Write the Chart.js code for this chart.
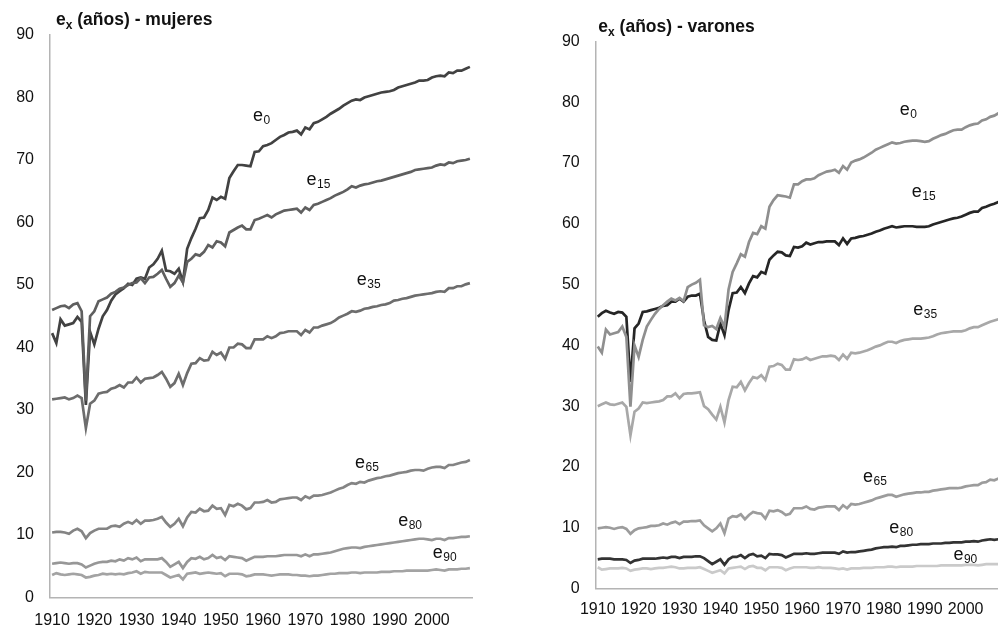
<!DOCTYPE html>
<html>
<head>
<meta charset="utf-8">
<script src="https://cdn.jsdelivr.net/npm/chart.js@4"></script>
<style>
  html, body { margin: 0; padding: 0; background: #fff; overflow: hidden; width: 998px; height: 627px; }
  canvas { position: absolute; top: 0; }
  #chartMujeres { left: 0; }
  #chartVarones { left: 500px; }
</style>
</head>
<body>
<canvas id="chartMujeres" width="490" height="627"></canvas>
<canvas id="chartVarones" width="520" height="627"></canvas>
<script>
// años 1910-2009
const years = [];
for (let y = 1910; y <= 2009; y++) years.push(String(y));

// mujeres
const mujeresE0 = [
  42.3, 40.7, 44.5, 43.5, 43.7, 43.9, 44.9, 44.1, 30.8, 42.5,
  40.5, 43.0, 45.0, 46.0, 47.5, 48.5, 49.0, 49.5, 50.2, 50.0,
  51.0, 51.2, 51.0, 52.8, 53.3, 54.2, 55.5, 52.3, 52.2, 51.8,
  52.6, 50.5, 55.8, 57.5, 59.0, 60.7, 60.8, 62.0, 64.0, 63.6,
  64.1, 63.8, 67.1, 68.2, 69.2, 69.2, 69.1, 69.0, 71.3, 71.4,
  72.2, 72.4, 72.7, 73.2, 73.7, 74.0, 74.4, 74.5, 74.7, 74.1,
  75.2, 74.9, 75.9, 76.1, 76.5, 76.9, 77.4, 77.8, 78.2, 78.7,
  79.1, 79.5, 79.7, 79.6, 80.0, 80.2, 80.4, 80.6, 80.8, 80.9,
  81.0, 81.2, 81.6, 81.8, 82.0, 82.2, 82.4, 82.7, 82.7, 82.8,
  83.2, 83.4, 83.5, 83.4, 84.0, 83.9, 84.3, 84.3, 84.6, 84.9
];
const mujeresE15 = [
  46.0, 46.3, 46.6, 46.7, 46.3, 46.9, 47.1, 45.8, 31.5, 45.0,
  45.8, 47.4, 47.7, 48.0, 48.6, 48.9, 49.4, 49.6, 50.0, 50.3,
  50.4, 51.1, 50.3, 51.2, 51.3, 51.8, 52.4, 51.0, 49.7, 50.3,
  51.5, 50.4, 53.7, 54.2, 54.9, 54.7, 55.3, 56.4, 56.0, 57.0,
  56.8, 56.2, 58.4, 58.8, 59.2, 59.5, 58.9, 58.9, 60.4, 60.6,
  60.9, 61.2, 60.8, 61.3, 61.6, 61.9, 62.0, 62.1, 62.2, 61.6,
  62.4, 62.0, 62.8, 63.0, 63.3, 63.6, 63.9, 64.3, 64.6, 64.9,
  65.3, 65.8, 65.6, 65.9, 66.1, 66.2, 66.4, 66.6, 66.7, 66.9,
  67.1, 67.3, 67.5, 67.7, 67.9, 68.1, 68.4, 68.5, 68.6, 68.7,
  68.8, 69.1, 69.3, 69.2, 69.6, 69.5, 69.8, 69.9, 70.0, 70.2
];
const mujeresE35 = [
  31.7, 31.8, 31.9, 32.0, 31.7, 31.9, 32.3, 31.9, 27.1, 31.0,
  31.5, 32.6, 32.8, 32.9, 33.4, 33.6, 34.0, 33.6, 34.4, 34.4,
  35.2, 34.4, 35.0, 35.1, 35.2, 35.6, 36.1, 35.0, 33.7, 34.3,
  35.8, 34.0, 35.9, 37.4, 37.5, 38.3, 37.9, 38.0, 39.3, 38.8,
  39.2, 38.2, 40.0, 40.0, 40.6, 40.5, 39.9, 39.9, 41.3, 41.3,
  41.3, 41.8, 41.5, 41.8, 42.3, 42.4, 42.6, 42.6, 42.6, 42.0,
  42.8, 42.4, 43.2, 43.2, 43.5, 43.7, 43.9, 44.3, 44.8, 45.1,
  45.4, 45.8, 45.7, 45.9, 46.2, 46.3, 46.5, 46.6, 46.8, 46.9,
  47.1, 47.5, 47.6, 47.8, 47.9, 48.1, 48.3, 48.4, 48.5, 48.6,
  48.7, 48.9, 49.0, 48.9, 49.5, 49.5, 49.8, 49.8, 50.1, 50.3
];
const mujeresE65 = [
  10.4, 10.5, 10.5, 10.4, 10.2, 10.7, 11.0, 10.6, 9.5, 10.3,
  10.7, 11.0, 11.0, 11.0, 11.4, 11.5, 11.3, 11.8, 12.1, 11.8,
  12.4, 11.8, 12.3, 12.3, 12.4, 12.6, 12.9, 12.0, 11.3, 11.8,
  12.6, 11.4, 12.8, 13.7, 13.6, 14.2, 13.8, 13.9, 14.7, 14.2,
  14.3, 13.2, 14.8, 14.6, 15.0, 14.7, 14.1, 14.3, 15.2, 15.2,
  15.3, 15.6, 15.2, 15.3, 15.7, 15.8, 15.9, 16.0, 16.0, 15.6,
  16.2, 15.9, 16.3, 16.3, 16.4, 16.6, 16.8, 17.1, 17.4, 17.6,
  18.0, 18.3, 18.2, 18.5, 18.4, 18.7, 18.9, 19.1, 19.2, 19.4,
  19.5, 19.7, 19.9, 20.0, 20.1, 20.3, 20.4, 20.4, 20.3, 20.6,
  20.8, 20.9, 20.9, 20.7, 21.2, 21.2, 21.4, 21.6, 21.7, 22.0
];
const mujeresE80 = [
  5.4, 5.5, 5.6, 5.5, 5.4, 5.5, 5.5, 5.3, 4.8, 5.1,
  5.4, 5.6, 5.7, 5.7, 5.9, 5.8, 6.1, 5.9, 6.3, 6.1,
  6.4, 5.8, 6.1, 6.1, 6.1, 6.1, 6.3, 5.7, 4.9, 5.3,
  5.7, 4.7, 5.7, 6.3, 6.2, 6.5, 6.1, 6.3, 6.8, 6.3,
  6.5, 6.0, 6.6, 6.5, 6.4, 6.3, 5.9, 6.2, 6.5, 6.5,
  6.5, 6.6, 6.6, 6.6, 6.7, 6.8, 6.8, 6.8, 6.8, 6.6,
  6.9, 6.6, 6.9, 6.9, 7.0, 7.1, 7.2, 7.4, 7.6, 7.8,
  7.9, 8.0, 8.0, 7.9, 8.1, 8.2, 8.3, 8.4, 8.5, 8.6,
  8.7, 8.8, 8.9, 9.0, 9.1, 9.2, 9.3, 9.4, 9.4, 9.3,
  9.2, 9.4, 9.4, 9.2, 9.5, 9.5, 9.6, 9.7, 9.7, 9.8
];
const mujeresE90 = [
  3.6, 3.9, 3.7, 3.6, 3.7, 3.8, 3.7, 3.6, 3.2, 3.3,
  3.5, 3.6, 3.8, 3.7, 3.8, 3.7, 3.8, 3.7, 3.9, 4.0,
  4.2, 3.8, 4.1, 4.0, 4.0, 4.0, 4.0, 3.6, 3.2, 3.4,
  3.6, 2.9, 3.8, 3.9, 4.0, 3.8, 3.9, 4.0, 3.9, 3.8,
  3.9, 3.4, 3.8, 3.8, 3.8, 3.7, 3.4, 3.5, 3.7, 3.7,
  3.7, 3.6, 3.5, 3.6, 3.7, 3.7, 3.7, 3.6, 3.6, 3.5,
  3.5, 3.4, 3.5, 3.5, 3.6, 3.7, 3.8, 3.8, 3.9, 3.9,
  3.9, 4.0, 4.0, 3.9, 4.0, 4.0, 4.0, 4.0, 4.1, 4.1,
  4.1, 4.2, 4.2, 4.2, 4.3, 4.3, 4.3, 4.3, 4.3, 4.3,
  4.4, 4.5, 4.4, 4.3, 4.5, 4.5, 4.5, 4.6, 4.6, 4.7
];

// varones
const varonesE0 = [
  39.8, 38.8, 42.6, 41.8, 42.0, 42.2, 43.1, 41.4, 29.9, 40.0,
  38.1, 40.9, 43.1, 44.2, 45.2, 46.0, 46.6, 47.2, 47.7, 47.4,
  47.8, 47.3, 49.6, 50.0, 50.3, 50.8, 43.3, 43.0, 43.2, 42.7,
  44.5, 43.0, 49.2, 52.1, 53.5, 55.0, 54.6, 57.0, 58.5, 58.3,
  59.6, 59.2, 62.8, 63.9, 64.7, 64.6, 64.5, 64.3, 66.5, 66.5,
  67.0, 67.3, 67.3, 67.5, 68.0, 68.3, 68.6, 68.7, 68.9, 68.4,
  69.5, 68.9, 70.1, 70.4, 70.6, 70.9, 71.3, 71.7, 72.2, 72.5,
  72.8, 73.1, 73.4, 73.2, 73.3, 73.5, 73.6, 73.7, 73.7, 73.6,
  73.5, 73.6, 74.0, 74.3, 74.6, 74.8, 75.1, 75.4, 75.5, 75.5,
  75.9, 76.2, 76.4, 76.5, 77.0, 77.2, 77.6, 77.8, 78.2, 78.5
];
const varonesE15 = [
  44.7, 45.3, 45.7, 45.4, 45.2, 45.5, 45.4, 44.7, 34.0, 42.8,
  43.6, 45.5, 45.6, 45.8, 46.0, 46.2, 46.5, 46.6, 47.2, 47.2,
  47.7, 47.2, 48.0, 48.2, 48.2, 48.5, 44.1, 41.4, 40.9, 40.8,
  43.6, 41.7, 45.8, 48.6, 48.7, 49.6, 48.6, 50.2, 51.4, 51.2,
  52.1, 51.8, 54.1, 54.8, 55.4, 55.3, 54.8, 54.7, 56.2, 56.1,
  56.3, 56.9, 56.6, 56.8, 57.0, 57.0, 57.1, 57.1, 57.1, 56.5,
  57.6, 56.7, 57.6, 57.7, 57.9, 58.0, 58.2, 58.4, 58.7, 58.9,
  59.2, 59.4, 59.6, 59.4, 59.5, 59.6, 59.6, 59.6, 59.5, 59.5,
  59.5, 59.6, 59.9, 60.1, 60.3, 60.5, 60.7, 60.9, 61.0, 61.2,
  61.5, 61.8, 62.0, 62.0, 62.6, 62.8, 63.1, 63.3, 63.6, 63.8
];
const varonesE35 = [
  30.0, 30.3, 30.6, 30.3, 30.2, 30.4, 30.6, 29.9, 25.2, 29.1,
  29.6, 30.6, 30.5, 30.6, 30.7, 30.8, 31.0, 31.6, 31.6, 32.1,
  31.3, 32.0, 32.1, 32.1, 32.2, 32.3, 30.0, 29.5, 28.6, 27.8,
  29.9, 27.3, 31.0, 33.2, 33.1, 34.0, 32.6, 33.8, 34.8, 34.6,
  35.1, 34.3, 36.5, 36.6, 37.0, 36.8, 36.0, 36.0, 37.7, 37.6,
  37.7, 38.0, 37.6, 37.8, 38.0, 38.2, 38.2, 38.3, 38.2, 37.6,
  38.5, 37.8, 38.8, 38.7, 38.8, 39.0, 39.2, 39.5, 39.8, 40.0,
  40.3, 40.6, 40.6, 40.4, 40.7, 40.9, 41.0, 41.1, 41.1, 41.1,
  41.2, 41.3, 41.5, 41.8, 42.0, 42.1, 42.2, 42.3, 42.3, 42.3,
  42.5, 42.8, 43.0, 43.0, 43.3, 43.6, 43.9, 44.1, 44.3, 44.5
];
const varonesE65 = [
  9.9, 10.0, 10.1, 10.0, 9.8, 10.0, 10.1, 9.8, 9.0, 9.6,
  9.9, 10.0, 10.1, 10.3, 10.3, 10.4, 10.7, 10.5, 10.8, 11.0,
  10.6, 11.0, 11.0, 11.1, 11.1, 11.2, 10.4, 9.9, 9.4, 9.9,
  10.7, 9.1, 11.5, 11.9, 11.8, 12.2, 11.4, 12.1, 12.6, 12.4,
  12.3, 11.5, 12.8, 12.7, 12.9, 12.6, 12.1, 12.3, 13.2, 13.2,
  13.2, 13.5, 13.1, 13.0, 13.3, 13.4, 13.5, 13.5, 13.5, 12.9,
  13.7, 13.2, 13.9, 13.8, 13.9, 14.1, 14.3, 14.5, 14.8, 15.0,
  15.2, 15.4, 15.4, 15.1, 15.3, 15.5, 15.6, 15.7, 15.8, 15.8,
  15.9, 15.9, 16.1, 16.2, 16.3, 16.4, 16.5, 16.5, 16.5, 16.6,
  16.8, 16.9, 17.0, 17.0, 17.4, 17.5, 17.9, 17.8, 18.1, 18.2
];
const varonesE80 = [
  4.8, 4.9, 4.9, 4.9, 4.8, 4.8, 4.8, 4.7, 4.2, 4.6,
  4.7, 4.9, 4.9, 4.9, 4.9, 5.0, 5.1, 5.0, 5.2, 5.2,
  5.0, 5.2, 5.2, 5.2, 5.3, 5.3, 5.0, 4.5, 4.0, 4.4,
  4.8, 3.9, 4.8, 5.2, 5.2, 5.5, 5.0, 5.5, 5.7, 5.3,
  5.4, 5.0, 5.7, 5.6, 5.6, 5.5, 5.1, 5.4, 5.7, 5.7,
  5.7, 5.8, 5.7, 5.7, 5.8, 5.9, 5.9, 5.9, 5.9, 5.7,
  6.1, 5.9, 6.0, 6.0, 6.1, 6.2, 6.3, 6.4, 6.6, 6.7,
  6.8, 6.8, 6.9, 6.8, 7.0, 7.0, 7.1, 7.2, 7.2, 7.3,
  7.3, 7.3, 7.4, 7.4, 7.4, 7.5, 7.5, 7.6, 7.6, 7.6,
  7.7, 7.7, 7.8, 7.7, 7.9, 8.0, 8.1, 8.0, 8.1, 8.2
];
const varonesE90 = [
  3.5, 3.1, 3.2, 3.3, 3.3, 3.3, 3.4, 3.3, 2.9, 3.1,
  3.2, 3.3, 3.3, 3.2, 3.3, 3.4, 3.4, 3.5, 3.6, 3.5,
  3.3, 3.3, 3.4, 3.4, 3.4, 3.5, 3.2, 2.9, 2.6, 2.8,
  3.0, 2.5, 3.3, 3.4, 3.5, 3.6, 3.2, 3.6, 3.7, 3.4,
  3.4, 3.0, 3.5, 3.5, 3.5, 3.4, 3.0, 3.3, 3.5, 3.5,
  3.5, 3.5, 3.4, 3.4, 3.5, 3.4, 3.4, 3.4, 3.3, 3.2,
  3.3, 3.1, 3.3, 3.3, 3.3, 3.4, 3.4, 3.4, 3.5, 3.5,
  3.5, 3.6, 3.6, 3.5, 3.6, 3.6, 3.6, 3.6, 3.7, 3.7,
  3.7, 3.7, 3.7, 3.7, 3.8, 3.8, 3.8, 3.8, 3.8, 3.8,
  3.9, 3.9, 3.9, 3.8, 3.9, 4.0, 4.0, 4.0, 4.0, 4.1
];

// etiquetas e_x (año, valor donde empieza el texto)
const mujeresLabels = [
  { sub: '0', year: 1957.6, value: 76.2 },
  { sub: '15', year: 1970.3, value: 66.0 },
  { sub: '35', year: 1982.2, value: 50.0 },
  { sub: '65', year: 1981.8, value: 20.7 },
  { sub: '80', year: 1992.0, value: 11.5 },
  { sub: '90', year: 2000.2, value: 6.3 }
];
const varonesLabels = [
  { sub: '0', year: 1983.9, value: 77.9 },
  { sub: '15', year: 1986.8, value: 64.4 },
  { sub: '35', year: 1987.2, value: 45.0 },
  { sub: '65', year: 1974.9, value: 17.6 },
  { sub: '80', year: 1981.3, value: 9.1 },
  { sub: '90', year: 1997.0, value: 4.7 }
];

const FONT = '"Liberation Sans", Arial, sans-serif';

document.addEventListener('DOMContentLoaded', function() {
    Chart.defaults.font.family = FONT;
    Chart.defaults.font.size = 16;
    Chart.defaults.color = '#111';

    function drawText(ctx, text, x, y, font) {
        ctx.font = font;
        ctx.fillText(text, x, y);
        return x + ctx.measureText(text).width;
    }

    const etiquetasPlugin = {
        id: 'etiquetas',
        afterDatasetsDraw(chart, args, opts) {
            const ctx = chart.ctx;
            const xs = chart.scales.x;
            const ys = chart.scales.y;
            ctx.save();
            ctx.fillStyle = '#111';
            ctx.textAlign = 'left';
            ctx.textBaseline = 'alphabetic';
            // titulo
            let tx = chart.chartArea.left + opts.titleDx;
            tx = drawText(ctx, 'e', tx, opts.titleY, 'bold 17.5px ' + FONT);
            tx = drawText(ctx, 'x', tx, opts.titleY + 4, 'bold 12px ' + FONT);
            drawText(ctx, ' (años) - ' + opts.sexo, tx, opts.titleY, 'bold 17.5px ' + FONT);
            // e0, e15, ...
            opts.labels.forEach(function(l) {
                const px = xs.getPixelForValue(l.year - 1910);
                const py = ys.getPixelForValue(l.value);
                const nx = drawText(ctx, 'e', px, py, '18px ' + FONT);
                drawText(ctx, l.sub, nx + 0.5, py + 3, '12px ' + FONT);
            });
            ctx.restore();
        }
    };

    function serie(data, color) {
        return {
            data: data,
            borderColor: color,
            borderWidth: 2.7,
            pointRadius: 0,
            tension: 0,
            fill: false
        };
    }

    function makeChart(id, datasets, layout, etiquetas) {
        const ctx = document.getElementById(id).getContext('2d');
        return new Chart(ctx, {
            type: 'line',
            data: { labels: years, datasets: datasets },
            plugins: [etiquetasPlugin],
            options: {
                responsive: false,
                animation: false,
                layout: { padding: { top: layout.top, right: layout.right, left: 0, bottom: 0 } },
                plugins: {
                    legend: { display: false },
                    tooltip: { enabled: false },
                    etiquetas: etiquetas
                },
                scales: {
                    x: {
                        type: 'category',
                        offset: true,
                        grid: { display: false, drawTicks: false },
                        border: { display: true, color: '#b4b4b4', width: 1.5 },
                        ticks: {
                            autoSkip: false,
                            maxRotation: 0,
                            padding: layout.xPad,
                            callback: function(value, index) {
                                const yr = Number(years[index]);
                                return yr % 10 === 0 ? years[index] : '';
                            }
                        },
                        afterFit: function(scale) { scale.height = layout.xHeight; }
                    },
                    y: {
                        min: 0,
                        max: 90,
                        grid: { display: false, drawTicks: false },
                        border: { display: true, color: '#b4b4b4', width: 1.5 },
                        ticks: { stepSize: 10, padding: 16 },
                        afterFit: function(scale) { scale.width = layout.yWidth; }
                    }
                }
            }
        });
    }

    makeChart('chartMujeres', [
        serie(mujeresE90, '#a3a3a3'),
        serie(mujeresE80, '#979797'),
        serie(mujeresE65, '#848484'),
        serie(mujeresE35, '#6d6d6d'),
        serie(mujeresE15, '#5f5f5f'),
        serie(mujeresE0, '#424242')
    ], { top: 35, right: 18, yWidth: 50, xHeight: 29.5, xPad: 13 },
    { titleDx: 6, titleY: 24.5, sexo: 'mujeres', labels: mujeresLabels });

    makeChart('chartVarones', [
        serie(varonesE90, '#cacaca'),
        serie(varonesE80, '#333333'),
        serie(varonesE65, '#9c9c9c'),
        serie(varonesE35, '#a8a8a8'),
        serie(varonesE0, '#8f8f8f'),
        serie(varonesE15, '#262626')
    ], { top: 41.5, right: 15.5, yWidth: 95.7, xHeight: 38.5, xPad: 11 },
    { titleDx: 2.6, titleY: 32.3, sexo: 'varones', labels: varonesLabels });
});
</script>
</body>
</html>
